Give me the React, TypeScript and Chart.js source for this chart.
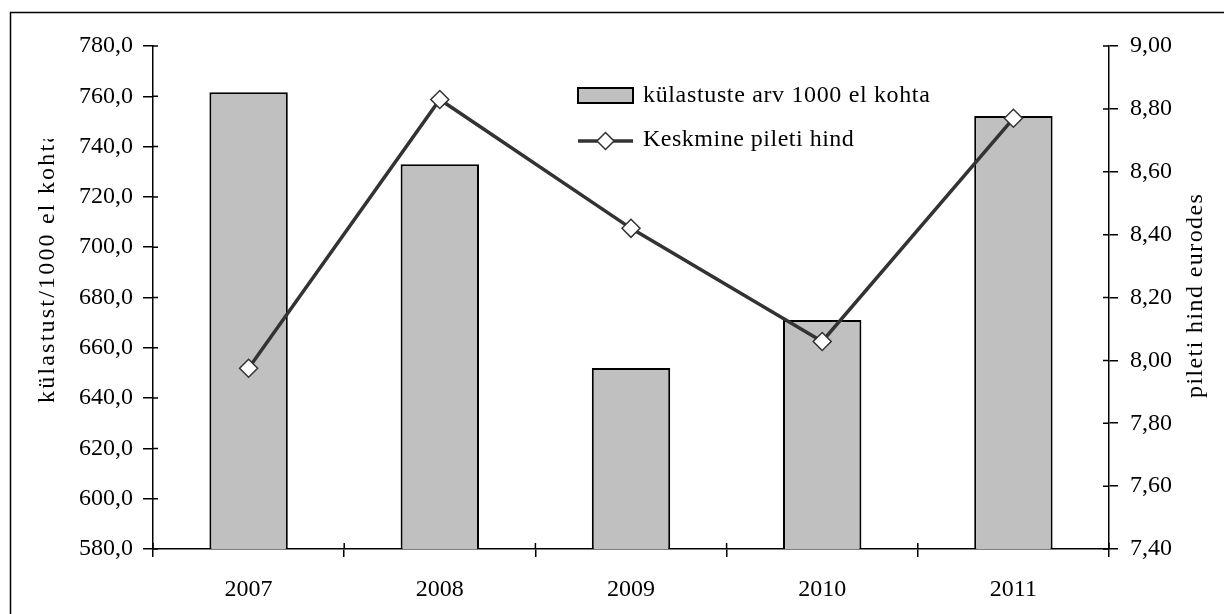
import React, { useEffect, useRef } from "react";
import { Chart, registerables } from "chart.js";

Chart.register(...registerables);

const categories = ["2007", "2008", "2009", "2010", "2011"];
const visits = [761.6, 733.0, 652.0, 671.1, 752.2];
const prices = [7.975, 8.83, 8.42, 8.06, 8.77];

const leftMin = 580;
const leftMax = 780;
const leftStep = 20;
const rightMin = 7.4;
const rightMax = 9.0;
const rightStep = 0.2;

const barLabel = "külastuste arv 1000 el kohta";
const lineLabel = "Keskmine pileti hind";
const leftTitle = "külastust/1000 el kohta";
const rightTitle = "pileti hind eurodes";

const FONT = "'Liberation Serif', 'Times New Roman', serif";
const FS = 24;
const BAR_FILL = "#c0c0c0";
const LINE_COLOR = "#333333";

const decorPlugin = {
  id: "decor",
  beforeDraw(chart: any) {
    const ctx = chart.ctx;
    ctx.save();
    ctx.fillStyle = "#ffffff";
    ctx.fillRect(0, 0, chart.width, chart.height);
    ctx.restore();
  },
  afterDraw(chart: any) {
    const ctx = chart.ctx;
    const { x, y, y1 } = chart.scales;
    ctx.save();
    // outer frame
    ctx.strokeStyle = "#000";
    ctx.lineWidth = 1.5;
    ctx.strokeRect(10.5, 12.5, chart.width + 50, chart.height + 50);

    // inner parts of tick marks (ticks cross the axes)
    ctx.lineWidth = 1.5;
    ctx.strokeStyle = "#000";
    ctx.beginPath();
    for (let i = 0; i <= categories.length; i++) {
      const px = x.getPixelForValue(i - 0.5);
      ctx.moveTo(px, y.bottom);
      ctx.lineTo(px, y.bottom - 6);
    }
    for (let v = leftMin; v <= leftMax + 1e-6; v += leftStep) {
      const py = y.getPixelForValue(v);
      ctx.moveTo(y.right, py);
      ctx.lineTo(y.right + 5, py);
    }
    for (let v = rightMin; v <= rightMax + 1e-6; v += rightStep) {
      const py = y1.getPixelForValue(v);
      ctx.moveTo(y1.left, py);
      ctx.lineTo(y1.left - 6, py);
    }
    ctx.stroke();

    // axis titles
    ctx.fillStyle = "#000";
    ctx.font = `${FS}px ${FONT}`;
    ctx.textBaseline = "middle";
    ctx.save();
    ctx.beginPath();
    ctx.rect(0, 139, 120, 400);
    ctx.clip();
    ctx.translate(48, 403);
    ctx.rotate(-Math.PI / 2);
    ctx.textAlign = "left";
    (ctx as any).letterSpacing = "2.2px";
    ctx.fillText(leftTitle, 0, 0);
    ctx.restore();

    ctx.save();
    ctx.translate(1196, 398);
    ctx.rotate(-Math.PI / 2);
    ctx.textAlign = "left";
    (ctx as any).letterSpacing = "1.4px";
    ctx.fillText(rightTitle, 0, 0);
    ctx.restore();

    // legend
    const lx = 578;
    ctx.fillStyle = BAR_FILL;
    ctx.fillRect(lx, 88, 55, 15);
    ctx.strokeStyle = "#000";
    ctx.lineWidth = 2;
    ctx.strokeRect(lx, 88, 55, 15);
    ctx.fillStyle = "#000";
    ctx.textAlign = "left";
    (ctx as any).letterSpacing = "0.65px";
    ctx.fillText(barLabel, 643, 96);

    const ly = 141;
    ctx.strokeStyle = LINE_COLOR;
    ctx.lineWidth = 3.5;
    ctx.beginPath();
    ctx.moveTo(lx, ly);
    ctx.lineTo(lx + 55, ly);
    ctx.stroke();
    const cx = lx + 27.5;
    const r = 8.5;
    ctx.beginPath();
    ctx.moveTo(cx, ly - r);
    ctx.lineTo(cx + r, ly);
    ctx.lineTo(cx, ly + r);
    ctx.lineTo(cx - r, ly);
    ctx.closePath();
    ctx.fillStyle = "#fff";
    ctx.fill();
    ctx.lineWidth = 1.5;
    ctx.stroke();
    ctx.fillStyle = "#000";
    (ctx as any).letterSpacing = "0.5px";
    ctx.fillText(lineLabel, 643, 140);
    ctx.restore();
  },
};

export default function App() {
  const ref = useRef<HTMLCanvasElement | null>(null);

  useEffect(() => {
    document.body.style.margin = "0";
    const canvas = ref.current;
    if (!canvas) return;
    const font = { family: FONT, size: FS };
    const chart = new Chart(canvas, {
      data: {
        labels: categories,
        datasets: [
          {
            type: "line",
            label: lineLabel,
            data: prices,
            yAxisID: "y1",
            order: 0,
            borderColor: LINE_COLOR,
            borderWidth: 3.5,
            pointStyle: "rectRot",
            pointRadius: 9,
            pointBackgroundColor: "#ffffff",
            pointBorderColor: LINE_COLOR,
            pointBorderWidth: 1.5,
            tension: 0,
          },
          {
            type: "bar",
            label: barLabel,
            data: visits,
            yAxisID: "y",
            order: 1,
            backgroundColor: BAR_FILL,
            borderColor: "#000000",
            borderWidth: 2,
            barPercentage: 0.41,
            categoryPercentage: 1,
          },
        ],
      } as any,
      options: {
        responsive: false,
        animation: false,
        devicePixelRatio: 1,
        layout: { padding: { top: 46, left: 0, right: 0, bottom: 0 } },
        plugins: {
          legend: { display: false },
          tooltip: { enabled: false },
          title: { display: false },
        },
        scales: {
          x: {
            type: "category",
            offset: true,
            grid: {
              offset: true,
              drawOnChartArea: false,
              drawTicks: true,
              tickLength: 8,
              color: "#000",
              lineWidth: 1.5,
            },
            border: { display: true, color: "#000", width: 1.5 },
            ticks: { font, color: "#000", padding: 18 },
            afterFit: (s: any) => {
              s.height = 65;
            },
          },
          y: {
            type: "linear",
            position: "left",
            min: leftMin,
            max: leftMax,
            grid: {
              drawOnChartArea: false,
              drawTicks: true,
              tickLength: 10,
              color: "#000",
              lineWidth: 1.5,
            },
            border: { display: true, color: "#000", width: 1.5 },
            ticks: {
              stepSize: leftStep,
              font,
              color: "#000",
              padding: 10,
              callback: (v: any) => Number(v).toFixed(1).replace(".", ","),
            },
            afterFit: (s: any) => {
              s.width = 153;
            },
          },
          y1: {
            type: "linear",
            position: "right",
            min: rightMin,
            max: rightMax,
            grid: {
              drawOnChartArea: false,
              drawTicks: true,
              tickLength: 9,
              color: "#000",
              lineWidth: 1.5,
            },
            border: { display: true, color: "#000", width: 1.5 },
            ticks: {
              stepSize: rightStep,
              font,
              color: "#000",
              padding: 12,
              callback: (v: any) => Number(v).toFixed(2).replace(".", ","),
            },
            afterFit: (s: any) => {
              s.width = 115;
            },
          },
        },
      } as any,
      plugins: [decorPlugin],
    });
    return () => chart.destroy();
  }, []);

  return (
    <canvas
      ref={ref}
      width={1224}
      height={614}
      style={{ display: "block", width: 1224, height: 614 }}
    />
  );
}
